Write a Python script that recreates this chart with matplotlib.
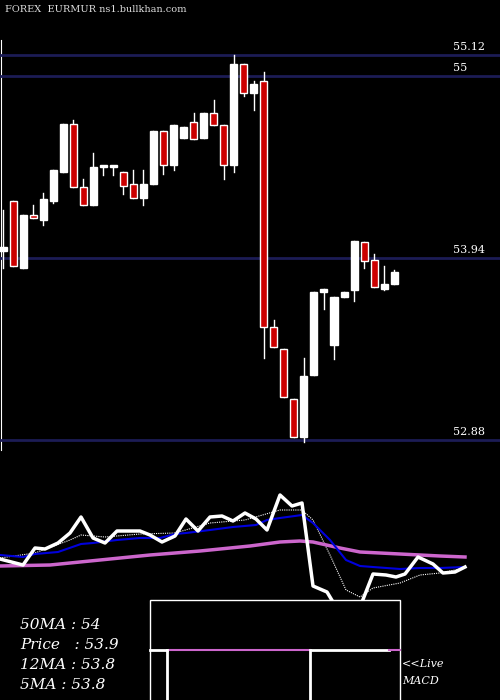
import matplotlib
matplotlib.use("Agg")
import matplotlib.pyplot as plt
from matplotlib.patches import Rectangle

opens  = [53.98,54.27,53.88,54.19,54.16,54.27,54.44,54.72,54.35,54.25,54.47,54.47,54.44,54.37,54.29,54.37,54.68,54.48,54.64,54.73,
          54.64,54.78,54.71,54.48,55.07,54.90,54.97,53.54,53.41,53.12,52.90,53.26,53.74,53.43,53.71,53.75,54.03,53.93,53.76,53.79]
closes = [54.00,53.89,54.19,54.17,54.28,54.45,54.72,54.35,54.25,54.47,54.47,54.47,54.36,54.29,54.37,54.68,54.48,54.71,54.70,54.63,
          54.78,54.71,54.48,55.07,54.90,54.95,53.54,53.42,53.13,52.90,53.25,53.74,53.76,53.71,53.74,54.04,53.92,53.77,53.79,53.86]
highs  = [54.22,54.27,54.19,54.25,54.32,54.45,54.72,54.74,54.40,54.55,54.47,54.47,54.44,54.45,54.45,54.68,54.68,54.71,54.70,54.78,
          54.78,54.86,54.71,55.12,55.07,54.97,55.02,53.58,53.41,53.12,53.36,53.74,53.76,53.71,53.74,54.04,54.03,53.96,53.89,53.87]
lows   = [53.88,53.89,53.88,54.17,54.13,54.26,54.44,54.35,54.25,54.25,54.42,54.42,54.31,54.29,54.25,54.37,54.43,54.45,54.64,54.63,
          54.64,54.71,54.40,54.44,54.88,54.80,53.36,53.42,53.13,52.90,52.87,53.26,53.64,53.35,53.71,53.69,53.88,53.77,53.75,53.79]
levels = [55.12, 55.0, 53.94, 52.88]
level_labels = ["55.12", "55", "53.94", "52.88"]

# indicator panel (screen-like units, larger = lower)
ind_x = [0,23,35,45,58,70,81,93,105,117,140,150,162,175,186,198,210,222,233,245,256,267,280,292,302,313,327,333,362,373,386,396,405,418,433,443,455,465]
price_line = [559,565,548,549,543,533,517,538,543,531,531,535,542,536,519,531,517,516,521,513,519,530,495,506,503,586,592,602,602,574,575,577,574,557,564,573,572,567]
blue_x = [0,23,35,58,81,93,117,140,160,175,186,210,233,256,267,280,302,313,330,346,360,373,400,420,440,465]
blue_y = [555,557,554,552,544,543,540,538,538,534,533,530,527,525,520,518,515,523,540,560,566,567,569,568,568,567]
mag_x = [0,50,100,150,200,250,280,300,313,340,360,400,440,465]
mag_y = [566,565,560,555,551,546,542,541,542,548,552,554,556,557]
dot_x = [0,35,70,81,105,140,175,210,245,280,302,313,330,346,360,373,400,420,440,465]
dot_y = [558,553,540,535,537,534,533,523,520,510,510,520,555,590,597,588,583,575,573,568]

fig = plt.figure(figsize=(5, 7), dpi=100, facecolor="black")
bg = fig.add_axes([0, 0, 1, 1])
bg.set_xlim(0, 500); bg.set_ylim(700, 0); bg.axis("off")
bg.set_facecolor("black")
bg.plot(dot_x, dot_y, color="white", lw=0.8, ls=(0, (1, 1)))
bg.plot(mag_x, mag_y, color="#cc66cc", lw=2.5)
bg.plot(blue_x, blue_y, color="#0000dd", lw=1.5)
bg.plot(ind_x, price_line, color="white", lw=2.5)
bg.add_patch(Rectangle((150, 600), 250, 105, facecolor="black", edgecolor="white", lw=1, zorder=5))
bg.plot([150, 167], [650, 650], color="white", lw=2, zorder=6)
bg.plot([169, 310], [650, 650], color="#cc66cc", lw=1.5, zorder=6)
bg.plot([312, 389], [650, 650], color="white", lw=2, zorder=6)
bg.plot([389, 400], [650, 650], color="#cc66cc", lw=1.5, zorder=6)
bg.plot([167, 167], [650, 700], color="white", lw=2, zorder=6)
bg.plot([310, 310], [650, 700], color="white", lw=2, zorder=6)
bg.plot([1, 1], [40, 450], color="white", lw=0.8)
for t, y in zip(["50MA : 54", "Price   : 53.9", "12MA : 53.8", "5MA : 53.8"], [625, 645, 665, 685]):
    bg.text(20, y, t, color="white", fontsize=11, family="DejaVu Serif", style="italic", va="center")
bg.text(402, 664, "<<Live", color="white", fontsize=8, family="DejaVu Serif", style="italic", va="center")
bg.text(402, 681, "MACD", color="white", fontsize=8, family="DejaVu Serif", style="italic", va="center")
bg.text(5, 10, "FOREX  EURMUR ns1.bullkhan.com", color="#dddddd", fontsize=7, family="DejaVu Serif", va="center")

k = (55.12 - 52.88) / 385.0
top = 55.12 + 55 * k
bot = 52.88 - 260 * k
ax = fig.add_axes([0, 0, 1, 1])
ax.patch.set_alpha(0)
ax.axis("off")
sp = 10.03
ax.set_xlim(-3 / sp, 497 / sp)
ax.set_ylim(bot, top)
for lv, lb in zip(levels, level_labels):
    ax.axhline(lv, color="#1c1c55", lw=2, zorder=1)
    ax.text(450 / sp, lv + 8 * k, lb, color="white", fontsize=8, family="DejaVu Serif", va="center")
for i, (o, h, l, c) in enumerate(zip(opens, highs, lows, closes)):
    ax.plot([i, i], [l, h], color="white", lw=1, zorder=2)
    up = c >= o
    b0, hgt = min(o, c), max(abs(c - o), 0.012)
    ax.add_patch(Rectangle((i - 0.35, b0), 0.7, hgt, facecolor="white" if up else "#cc0000",
                           edgecolor="white", lw=1, zorder=3))
fig.savefig("out.png", dpi=100, facecolor="black")
